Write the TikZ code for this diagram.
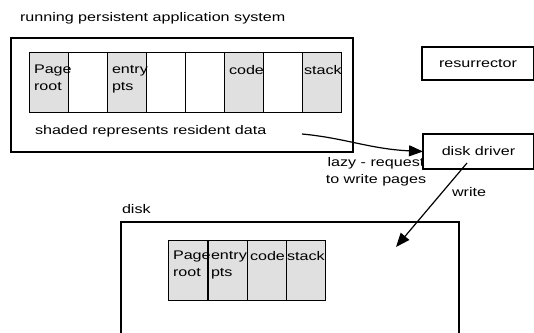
\documentclass[tikz,border=0pt]{standalone}
\usepackage{fontspec}
\setmainfont[FakeStretch=1.29]{Liberation Sans}
\usetikzlibrary{arrows.meta}
\begin{document}
\begin{tikzpicture}[x=1pt,y=-1pt,
  every node/.style={font=\fontsize{12.5}{17}\selectfont, inner sep=0pt, outer sep=0pt},
  frame/.style={draw, line width=1.3pt, anchor=north west},
  cell/.style={draw, line width=1pt, anchor=north west, minimum width=39pt, minimum height=60pt},
  resident/.style={cell, fill=black!12},
  celltext/.style={anchor=north west, align=left},
  caption/.style={anchor=base west},
  link/.style={line width=1.2pt, -{Triangle[length=14pt,width=11pt]}}
]
\useasboundingbox (0,0) rectangle (534,332);
\clip (0,0) rectangle (534,332);

% running application and its pages
\node[caption] (apptitle) at (20,21) {running persistent application system};
\node[frame, minimum width=342pt, minimum height=114pt] (app) at (11,38) {};
\node[resident] (a1) at (29,52) {};
\node[cell]     (a2) at (68,52) {};
\node[resident] (a3) at (107,52) {};
\node[cell]     (a4) at (146,52) {};
\node[cell]     (a5) at (185,52) {};
\node[resident] (a6) at (224,52) {};
\node[cell]     (a7) at (263,52) {};
\node[resident] (a8) at (302,52) {};
\node[celltext] (t1) at (34,65) {Page\\root};
\node[celltext] (t3) at (112,65) {entry\\pts};
\node[celltext] (t6) at (229,65) {code};
\node[celltext] (t8) at (304,65) {stack};
\node[caption] (legend) at (35,134) {shaded represents resident data};

% service processes
\node[frame, minimum width=112pt, minimum height=33pt] (res) at (422,47) {resurrector};
\node[frame, minimum width=111pt, minimum height=35pt] (drv) at (423,134) {disk driver};

% disk image of the pages
\node[caption] (disklabel) at (122,213) {disk};
\node[frame, minimum width=338pt, minimum height=140pt] (disk) at (121,222) {};
\node[resident] (d1) at (168,240) {};
\node[resident, minimum width=38.5pt] (d2) at (208.5,240) {};
\node[resident] (d3) at (247,240) {};
\node[resident] (d4) at (286,240) {};
\node[celltext] (u1) at (173,251) {Page\\root};
\node[celltext] (u2) at (211,251) {entry\\pts};
\node[celltext] (u3) at (250,251) {code};
\node[celltext] (u4) at (287,251) {stack};

% connectors
\coordinate (src) at (302,134);
\draw[link] (src) .. controls (345,138) and (370,149) .. (drv.west);
\node[align=center] (lazy) at (376,172) {lazy - request\\to write pages};
\coordinate (wfrom) at (467,163);
\coordinate (wto) at (396,247);
\draw[link] (wfrom) -- (wto);
\node[caption] (wlabel) at (452,196) {write};
\end{tikzpicture}
\end{document}
